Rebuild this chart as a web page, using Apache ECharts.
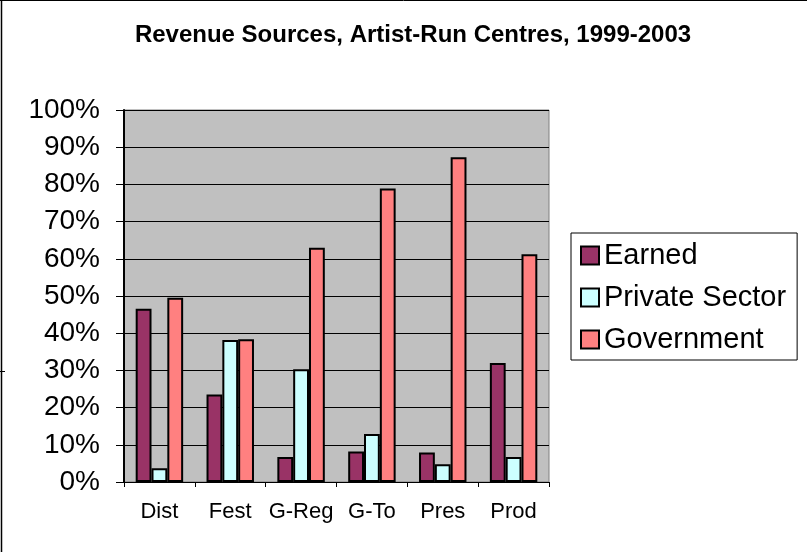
<!DOCTYPE html>
<html>
<head>
<meta charset="utf-8">
<script src="https://cdn.jsdelivr.net/npm/echarts@6/dist/echarts.min.js"></script>
<style>
  html, body { margin: 0; padding: 0; background: #ffffff; }
  #chart { width: 807px; height: 552px; }
</style>
</head>
<body>
<div id="chart"></div>
<script>
// Revenue shares by discipline (percent of total revenue)
var categories = ['Dist', 'Fest', 'G-Reg', 'G-To', 'Pres', 'Prod'];
var earned     = [46.6, 23.5, 6.7, 8.2, 7.9, 32.0];
var privateSec = [3.7, 38.2, 30.3, 12.9, 4.8, 6.7];
var government = [49.5, 38.4, 63.0, 78.9, 87.3, 61.2];
var seriesNames = ['Earned', 'Private Sector', 'Government'];
var yTicks = { min: 0, max: 100, interval: 10 };

var FONT = 'Liberation Sans, Arial, sans-serif';

function barSeries(name, data, color) {
  return {
    name: name,
    type: 'bar',
    data: data,
    barGap: '0%',
    barCategoryGap: '33%',
    itemStyle: { color: color, borderColor: '#000000', borderWidth: 2 },
    emphasis: { disabled: true }
  };
}

var chart = echarts.init(document.getElementById('chart'), null, { renderer: 'canvas' });
chart.setOption({
  animation: false,
  backgroundColor: '#ffffff',
  title: {
    text: 'Revenue Sources, Artist-Run Centres, 1999-2003',
    left: 408,
    textAlign: 'center',
    top: 18,
    textStyle: { fontFamily: FONT, fontSize: 24, fontWeight: 'bold', color: '#000000' }
  },
  legend: {
    orient: 'vertical',
    left: 571,
    top: 233,
    padding: [8, 11, 6, 9],
    itemGap: 13,
    itemWidth: 18,
    itemHeight: 18,
    icon: 'rect',
    borderColor: '#000000',
    borderWidth: 1,
    selectedMode: false,
    data: seriesNames,
    itemStyle: { borderColor: '#000000', borderWidth: 2 },
    textStyle: { fontFamily: FONT, fontSize: 29, color: '#000000' }
  },
  grid: {
    left: 124, top: 110, right: 258, bottom: 70,
    show: true,
    backgroundColor: '#C0C0C0',
    borderColor: '#808080',
    borderWidth: 1
  },
  xAxis: {
    type: 'category',
    data: categories,
    axisLine: { lineStyle: { color: '#000000', width: 1 } },
    axisTick: { show: true, length: 5, lineStyle: { color: '#000000' } },
    axisLabel: { interval: 0, fontFamily: FONT, fontSize: 22, color: '#000000', margin: 19 },
    splitLine: { show: false }
  },
  yAxis: {
    type: 'value',
    min: yTicks.min,
    max: yTicks.max,
    interval: yTicks.interval,
    axisLine: { show: true, lineStyle: { color: '#000000', width: 2 } },
    axisTick: { show: true, length: 8, lineStyle: { color: '#000000' } },
    axisLabel: {
      fontFamily: FONT, fontSize: 28, color: '#000000', margin: 24,
      formatter: function (v) { return v + '%'; }
    },
    splitLine: { show: true, lineStyle: { color: '#000000', width: 1 } }
  },
  series: [
    barSeries(seriesNames[0], earned, '#993366'),
    barSeries(seriesNames[1], privateSec, '#CCFFFF'),
    barSeries(seriesNames[2], government, '#FF8080')
  ],
  graphic: [
    { type: 'line', shape: { x1: 0, y1: 0.5, x2: 807, y2: 0.5 }, style: { stroke: '#000000', lineWidth: 1 }, silent: true },
    { type: 'line', shape: { x1: 1.5, y1: 0, x2: 1.5, y2: 552 }, style: { stroke: '#000000', lineWidth: 1.5 }, silent: true },
    { type: 'line', shape: { x1: 0, y1: 371.5, x2: 5, y2: 371.5 }, style: { stroke: '#000000', lineWidth: 1 }, silent: true }
  ]
});
</script>
</body>
</html>
